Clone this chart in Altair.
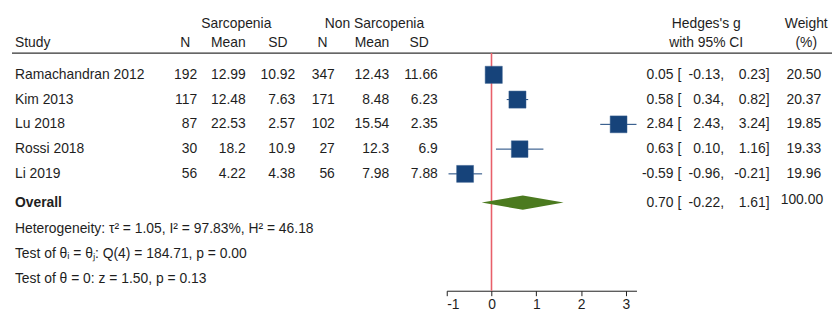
import altair as alt
import pandas as pd

# ---------------- data ----------------
studies = ["Ramachandran 2012", "Kim 2013", "Lu 2018", "Rossi 2018", "Li 2019"]
n_sarc = [192, 117, 87, 30, 56]
mean_sarc = ["12.99", "12.48", "22.53", "18.2", "4.22"]
sd_sarc = ["10.92", "7.63", "2.57", "10.9", "4.38"]
n_non = [347, 171, 102, 27, 56]
mean_non = ["12.43", "8.48", "15.54", "12.3", "7.98"]
sd_non = ["11.66", "6.23", "2.35", "6.9", "7.88"]
g = [0.05, 0.58, 2.84, 0.63, -0.59]
g_lo = [-0.13, 0.34, 2.43, 0.10, -0.96]
g_hi = [0.23, 0.82, 3.24, 1.16, -0.21]
weight = [20.50, 20.37, 19.85, 19.33, 19.96]

overall_g, overall_lo, overall_hi, overall_w = 0.70, -0.22, 1.61, 100.00
summary_lines = [
    "Heterogeneity: τ² = 1.05, I² = 97.83%, H² = 46.18",
    "Test of θᵢ = θⱼ: Q(4) = 184.71, p = 0.00",
    "Test of θ = 0: z = 1.50, p = 0.13",
]
x_ticks = [-1, 0, 1, 2, 3]

# ---------------- layout / style ----------------
FONT = "Liberation Sans"
FS = 14
TXT = "#1e1e1e"
NAVY = "#16437a"
GREEN = "#4b7a1f"
RED = "#e8606a"
OVERALL_ROW = 5.16
SUMMARY_ROWS = [6.24, 7.24, 8.24]
DIAMOND_H = 0.29

rows = list(range(len(studies)))
df = pd.DataFrame({
    "row": rows,
    "study": studies,
    "n1": [str(v) for v in n_sarc],
    "m1": mean_sarc, "s1": sd_sarc,
    "n2": [str(v) for v in n_non],
    "m2": mean_non, "s2": sd_non,
    "g": g, "lo": g_lo, "hi": g_hi, "w": weight,
})
df["est_t"] = [f"{v:.2f}" for v in g]
df["lo_t"] = [f"{v:.2f}," for v in g_lo]
df["hi_t"] = [f"{v:.2f}]" for v in g_hi]
df["w_t"] = [f"{v:.2f}" for v in weight]
df["br"] = "["

ov = pd.DataFrame({
    "row": [OVERALL_ROW], "study": ["Overall"],
    "est_t": [f"{overall_g:.2f}"], "lo_t": [f"{overall_lo:.2f},"],
    "hi_t": [f"{overall_hi:.2f}]"], "w_t": [f"{overall_w:.2f}"], "br": ["["],
})

summ = pd.DataFrame({"row": SUMMARY_ROWS, "txt": summary_lines})

diamond = pd.DataFrame({
    "x": [overall_lo, overall_g, overall_hi],
    "y1": [OVERALL_ROW, OVERALL_ROW - DIAMOND_H, OVERALL_ROW],
    "y2": [OVERALL_ROW, OVERALL_ROW + DIAMOND_H, OVERALL_ROW],
})

x_scale = alt.Scale(domain=[-1, 3.24], range=[443, 634.6], nice=False, zero=False)
y_scale = alt.Scale(domain=[-2.64, 8.72], reverse=True, nice=False, zero=False)
x_axis = alt.Axis(values=x_ticks, title=None, grid=False, domainColor=TXT, tickColor=TXT,
                  labelColor=TXT, labelFont=FONT, labelFontSize=FS, tickSize=5,
                  labelPadding=2, domainWidth=1, tickWidth=1,
                  labelExpr="'' + datum.value")


def X(field):
    return alt.X(field, scale=x_scale, axis=x_axis)


def Y(field="row:Q"):
    return alt.Y(field, scale=y_scale, axis=None)


def col(data, field, xpx, align, weight="normal", dy=0):
    return alt.Chart(data).mark_text(
        align=align, baseline="middle", font=FONT, fontSize=FS, color=TXT,
        fontWeight=weight, dy=dy
    ).encode(x=alt.value(xpx), y=Y(), text=alt.Text(f"{field}:N"))


def header(text, xpx, ypx, align="center"):
    return alt.Chart(pd.DataFrame({"t": [text]})).mark_text(
        align=align, baseline="middle", font=FONT, fontSize=FS, color=TXT
    ).encode(x=alt.value(xpx), y=alt.value(ypx), text="t:N")


layers = []

# header line and reference line
layers.append(alt.Chart(pd.DataFrame({"a": [0]})).mark_rule(color="#333333", strokeWidth=1.3)
              .encode(x=alt.value(4), x2=alt.value(832), y=alt.value(44)))
layers.append(alt.Chart(pd.DataFrame({"g": [0]})).mark_rule(color=RED, strokeWidth=1.6)
              .encode(x=X("g:Q"), y=alt.value(44), y2=alt.value(284)))

# CIs and squares
layers.append(alt.Chart(df).mark_rule(color=NAVY, strokeWidth=1)
              .encode(x=X("lo:Q"), x2="hi:Q", y=Y()))
layers.append(alt.Chart(df).mark_square(color=NAVY, opacity=1, stroke="#3a5f8f", strokeWidth=0.5)
              .encode(x=X("g:Q"), y=Y(),
                      size=alt.Size("w:Q", scale=alt.Scale(domain=[0, 100], range=[0, 1460]), legend=None)))
# overall diamond
layers.append(alt.Chart(diamond).mark_area(color=GREEN, opacity=1)
              .encode(x=X("x:Q"), y=Y("y1:Q"), y2="y2:Q"))

# headers
for t, xp, yp in [
    ("Sarcopenia", 230.5, 14.7), ("Non Sarcopenia", 370, 14.7),
    ("N", 179, 33.7), ("Mean", 222.5, 33.7), ("SD", 272.5, 33.7),
    ("N", 317.5, 33.7), ("Mean", 367.5, 33.7), ("SD", 415, 33.7),
    ("Hedges's g", 705, 14.7), ("with 95% CI", 705, 33.7),
    ("Weight", 806, 14.7), ("(%)", 806, 33.7),
]:
    layers.append(header(t, xp, yp))
layers.append(header("Study", 7, 33.7, align="left"))

# table columns
layers += [
    col(df, "study", 7, "left"),
    col(df, "n1", 191, "right"), col(df, "m1", 240, "right"), col(df, "s1", 290, "right"),
    col(df, "n2", 330, "right"), col(df, "m2", 385, "right"), col(df, "s2", 434, "right"),
    col(df, "est_t", 672, "right"), col(df, "br", 676, "left"),
    col(df, "lo_t", 723, "right"), col(df, "hi_t", 769, "right"), col(df, "w_t", 821, "right"),
    col(ov, "study", 7, "left", weight="bold"),
    col(ov, "est_t", 672, "right"), col(ov, "br", 676, "left"),
    col(ov, "lo_t", 723, "right"), col(ov, "hi_t", 769, "right"),
    col(ov, "w_t", 823, "right", dy=-3),
    col(summ, "txt", 7, "left"),
]

chart = alt.layer(*layers).properties(
    width=832, height=284,
    padding={"left": 0, "top": 0, "right": 0, "bottom": 21},
    autosize=alt.AutoSizeParams(type="none"),
).configure_view(stroke=None)

chart.save("out.html", embed_options={"renderer": "svg", "actions": False})
